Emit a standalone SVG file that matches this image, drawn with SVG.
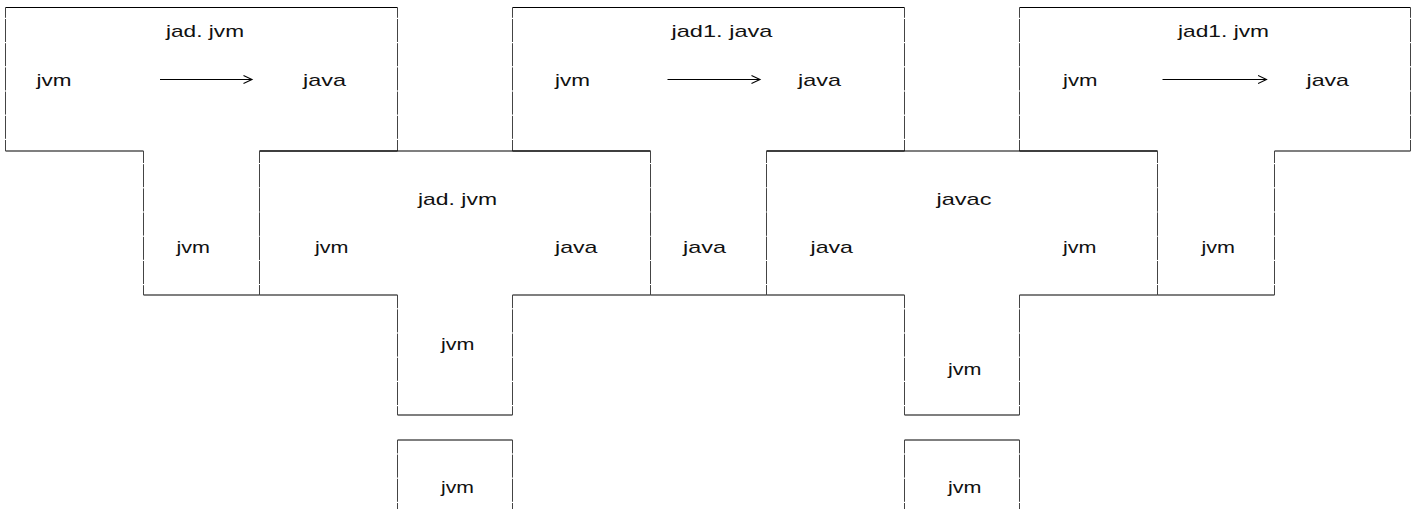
<svg xmlns="http://www.w3.org/2000/svg" width="1418" height="509" viewBox="0 0 1418 509">
<style>
.h{stroke:#000;stroke-width:1.2;fill:none}
.v{stroke:#444;stroke-width:1;fill:none;stroke-dasharray:23 1.2}
.v1{stroke-dashoffset:12.7}
.v2{stroke-dashoffset:11}
.v3{stroke-dashoffset:9.8}
.v4{stroke-dashoffset:9.6}
text{font-family:"Liberation Sans",Arial,Helvetica,sans-serif;font-size:17px;fill:#111}
.arrow{stroke:#000;stroke-width:1.1;fill:none}
</style>
<defs>
<marker id="chev" markerUnits="userSpaceOnUse" markerWidth="12" markerHeight="12" refX="9" refY="4.5" orient="auto">
<path d="M0.5,0.5 L9,4.5 L0.5,8.5" fill="none" stroke="#000" stroke-width="1.1"/>
</marker>
</defs>
<rect width="1418" height="509" fill="#fff"/>

<g id="t1-jad-jvm">
<line class="h" x1="5.5" y1="7.5" x2="397.5" y2="7.5"/>
<line class="h" x1="5.5" y1="151" x2="143.5" y2="151"/>
<line class="h" x1="259.5" y1="151" x2="397.5" y2="151"/>
<line class="h" x1="143.5" y1="295" x2="259.5" y2="295"/>
<line class="v v1" x1="5.5" y1="7.5" x2="5.5" y2="151"/>
<line class="v v1" x1="397.5" y1="7.5" x2="397.5" y2="151"/>
<line class="v v2" x1="143.5" y1="151" x2="143.5" y2="295"/>
<line class="v v2" x1="259.5" y1="151" x2="259.5" y2="295"/>
<text x="166" y="37" textLength="78" lengthAdjust="spacingAndGlyphs">jad. jvm</text>
<text x="36.5" y="85.5" textLength="35" lengthAdjust="spacingAndGlyphs">jvm</text>
<text x="303" y="85.5" textLength="43" lengthAdjust="spacingAndGlyphs">java</text>
<text x="176.5" y="253" textLength="33.5" lengthAdjust="spacingAndGlyphs">jvm</text>
</g>

<g id="t2-jad1-java">
<line class="h" x1="512.5" y1="7.5" x2="904.5" y2="7.5"/>
<line class="h" x1="512.5" y1="151" x2="650.5" y2="151"/>
<line class="h" x1="766.5" y1="151" x2="904.5" y2="151"/>
<line class="h" x1="650.5" y1="295" x2="766.5" y2="295"/>
<line class="v v1" x1="512.5" y1="7.5" x2="512.5" y2="151"/>
<line class="v v1" x1="904.5" y1="7.5" x2="904.5" y2="151"/>
<line class="v v2" x1="650.5" y1="151" x2="650.5" y2="295"/>
<line class="v v2" x1="766.5" y1="151" x2="766.5" y2="295"/>
<text x="671.5" y="37" textLength="101" lengthAdjust="spacingAndGlyphs">jad1. java</text>
<text x="555" y="85.5" textLength="35" lengthAdjust="spacingAndGlyphs">jvm</text>
<text x="798" y="85.5" textLength="43" lengthAdjust="spacingAndGlyphs">java</text>
<text x="683" y="253" textLength="43" lengthAdjust="spacingAndGlyphs">java</text>
</g>

<g id="t3-jad1-jvm">
<line class="h" x1="1019.5" y1="7.5" x2="1410.5" y2="7.5"/>
<line class="h" x1="1019.5" y1="151" x2="1157.5" y2="151"/>
<line class="h" x1="1274.5" y1="151" x2="1410.5" y2="151"/>
<line class="h" x1="1157.5" y1="295" x2="1274.5" y2="295"/>
<line class="v v1" x1="1019.5" y1="7.5" x2="1019.5" y2="151"/>
<line class="v v1" x1="1410.5" y1="7.5" x2="1410.5" y2="151"/>
<line class="v v2" x1="1157.5" y1="151" x2="1157.5" y2="295"/>
<line class="v v2" x1="1274.5" y1="151" x2="1274.5" y2="295"/>
<text x="1178" y="37" textLength="91" lengthAdjust="spacingAndGlyphs">jad1. jvm</text>
<text x="1063" y="85.5" textLength="34.5" lengthAdjust="spacingAndGlyphs">jvm</text>
<text x="1306.5" y="85.5" textLength="42.5" lengthAdjust="spacingAndGlyphs">java</text>
<text x="1201.5" y="253" textLength="33.5" lengthAdjust="spacingAndGlyphs">jvm</text>
</g>

<g id="t4-jad-jvm">
<line class="h" x1="259.5" y1="151" x2="650.5" y2="151"/>
<line class="h" x1="259.5" y1="295" x2="397.5" y2="295"/>
<line class="h" x1="512.5" y1="295" x2="650.5" y2="295"/>
<line class="h" x1="397.5" y1="415" x2="512.5" y2="415"/>
<line class="v v2" x1="259.5" y1="151" x2="259.5" y2="295"/>
<line class="v v2" x1="650.5" y1="151" x2="650.5" y2="295"/>
<line class="v v3" x1="397.5" y1="295" x2="397.5" y2="415"/>
<line class="v v3" x1="512.5" y1="295" x2="512.5" y2="415"/>
<text x="418" y="205" textLength="79" lengthAdjust="spacingAndGlyphs">jad. jvm</text>
<text x="315" y="253" textLength="33.5" lengthAdjust="spacingAndGlyphs">jvm</text>
<text x="555" y="253" textLength="42.5" lengthAdjust="spacingAndGlyphs">java</text>
<text x="441" y="350" textLength="33.5" lengthAdjust="spacingAndGlyphs">jvm</text>
</g>

<g id="t5-javac">
<line class="h" x1="766.5" y1="151" x2="1157.5" y2="151"/>
<line class="h" x1="766.5" y1="295" x2="904.5" y2="295"/>
<line class="h" x1="1019.5" y1="295" x2="1157.5" y2="295"/>
<line class="h" x1="904.5" y1="415" x2="1019.5" y2="415"/>
<line class="v v2" x1="766.5" y1="151" x2="766.5" y2="295"/>
<line class="v v2" x1="1157.5" y1="151" x2="1157.5" y2="295"/>
<line class="v v3" x1="904.5" y1="295" x2="904.5" y2="415"/>
<line class="v v3" x1="1019.5" y1="295" x2="1019.5" y2="415"/>
<text x="936.5" y="205" textLength="55" lengthAdjust="spacingAndGlyphs">javac</text>
<text x="810.5" y="253" textLength="42.5" lengthAdjust="spacingAndGlyphs">java</text>
<text x="1063" y="253" textLength="33.5" lengthAdjust="spacingAndGlyphs">jvm</text>
<text x="948" y="375" textLength="33.5" lengthAdjust="spacingAndGlyphs">jvm</text>
</g>

<g id="m1-jvm">
<line class="h" x1="397.5" y1="440" x2="512.5" y2="440"/>
<line class="v v4" x1="397.5" y1="440" x2="397.5" y2="510"/>
<line class="v v4" x1="512.5" y1="440" x2="512.5" y2="510"/>
<text x="441" y="493" textLength="33" lengthAdjust="spacingAndGlyphs">jvm</text>
</g>

<g id="m2-jvm">
<line class="h" x1="904.5" y1="440" x2="1019.5" y2="440"/>
<line class="v v4" x1="904.5" y1="440" x2="904.5" y2="510"/>
<line class="v v4" x1="1019.5" y1="440" x2="1019.5" y2="510"/>
<text x="948" y="493" textLength="33.5" lengthAdjust="spacingAndGlyphs">jvm</text>
</g>

<g id="connectors">
<line class="arrow" x1="160" y1="79.5" x2="252" y2="79.5" marker-end="url(#chev)"/>
<line class="arrow" x1="667.5" y1="79.5" x2="760" y2="79.5" marker-end="url(#chev)"/>
<line class="arrow" x1="1162.5" y1="79.5" x2="1266.5" y2="79.5" marker-end="url(#chev)"/>
</g>
</svg>
